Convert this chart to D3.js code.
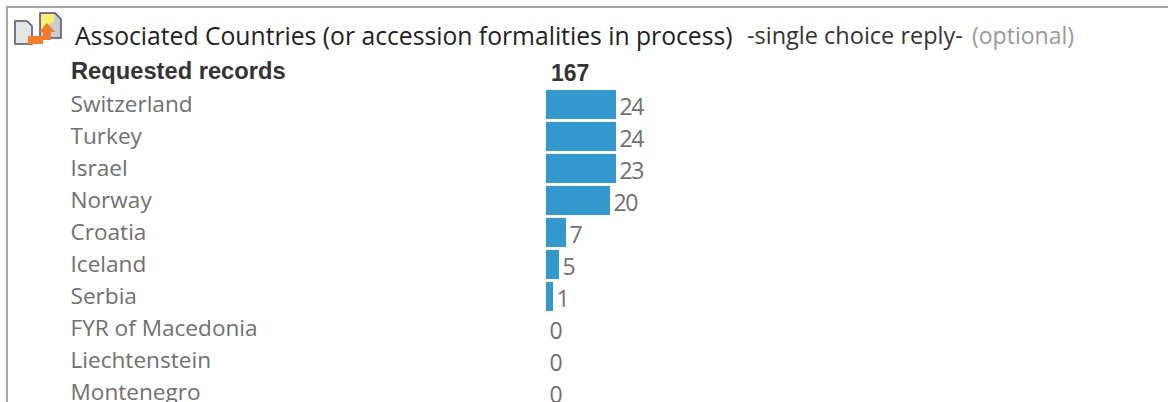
<!DOCTYPE html>
<html><head><meta charset="utf-8">
<script src="https://cdn.jsdelivr.net/npm/d3@7"></script>
<style>html,body{margin:0;padding:0;background:#fff;overflow:hidden}svg{display:block}</style>
</head><body><svg id="c" width="1168" height="402"></svg>
<script>
const categories = ["Switzerland","Turkey","Israel","Norway","Croatia","Iceland","Serbia","FYR of Macedonia","Liechtenstein","Montenegro"];
const values = [24,24,23,20,7,5,1,0,0,0];
const titleMain = "Associated Countries (or accession formalities in process)";
const titleChoice = "-single choice reply-";
const titleOpt = "(optional)";
const headerLabel = "Requested records";
const headerTotal = 167;

const svg = d3.select("#c");
const font = "'Open Sans', sans-serif";
svg.append("path").attr("d","M7,402V7H1168").attr("fill","none").attr("stroke","#a6a6a6").attr("stroke-width",2);

// icon
const ic = svg.append("g");
ic.append("path").attr("d","M15,21H27L32,26V44H15Z").attr("fill","#e2e6e4").attr("stroke","#5a4a70").attr("stroke-width",1.5);
ic.append("path").attr("d","M40,13H55L61,19V38H40Z").attr("fill","#c9cdcc").attr("stroke","#5a4a70").attr("stroke-width",1.5);
ic.append("path").attr("d","M41,14H54V21L41,32Z").attr("fill","#f8ee72");
ic.append("path").attr("d","M28,44V36H43V32H39L47,23L55,32H51V40H43V44Z").attr("fill","#f47b2a");

svg.append("text").attr("x",75).attr("y",45).attr("font-family",font).attr("font-size",24.7).attr("fill","#222").text(titleMain);
svg.append("text").attr("x",747).attr("y",44).attr("font-family",font).attr("font-size",23.5).attr("fill","#333").text(titleChoice);
svg.append("text").attr("x",972).attr("y",44).attr("font-family",font).attr("font-size",23).attr("fill","#999").text(titleOpt);

svg.append("text").attr("x",71).attr("y",79).attr("font-family","'Liberation Sans',sans-serif").attr("font-weight","bold").attr("font-size",23.7).attr("fill","#333").text(headerLabel);
svg.append("text").attr("x",551).attr("y",81).attr("font-family","'Liberation Sans',sans-serif").attr("font-weight","bold").attr("font-size",23).attr("fill","#333").text(headerTotal);

const y = d3.scaleBand().domain(categories).range([90,410]).paddingInner(0);
const w = d3.scaleLinear().domain([0,1,5,7,20,23]).range([0,7,13,20,64,70]).clamp(true);
const x0 = 546;

const rows = svg.selectAll("g.row").data(categories.map((c,i)=>({c,v:values[i]}))).join("g").attr("class","row")
  .attr("transform",d=>`translate(0,${y(d.c)})`);
rows.append("text").attr("x",70.5).attr("y",22).attr("font-family",font).attr("font-size",22.6).attr("fill","#707070").text(d=>d.c);
rows.filter(d=>d.v>0).append("rect").attr("x",x0).attr("y",0).attr("width",d=>w(d.v)).attr("height",29).attr("fill","#3399cc");
rows.append("text").attr("x",d=>x0+w(d.v)+3.5).attr("y",25).attr("font-family",font).attr("font-size",23).attr("letter-spacing",-1.5).attr("fill","#707070").text(d=>d.v);
</script></body></html>
